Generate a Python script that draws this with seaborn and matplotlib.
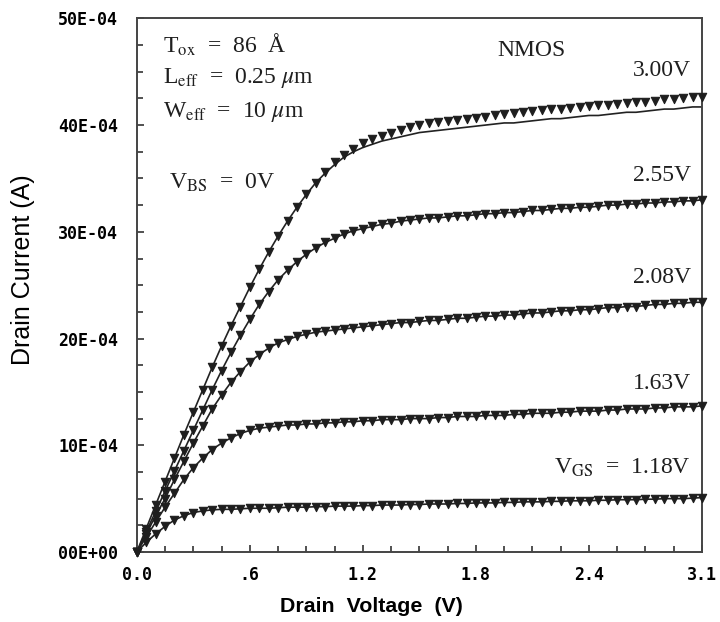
import numpy as np
import pandas as pd
import matplotlib
matplotlib.use('Agg')
import matplotlib.pyplot as plt
from matplotlib.ticker import MultipleLocator, FixedLocator
import seaborn as sns

# drain voltage sweep (V)
vds = [0.00, 0.05, 0.10, 0.15, 0.20, 0.25, 0.30, 0.35, 0.40, 0.45,
       0.50, 0.55, 0.60, 0.65, 0.70, 0.75, 0.80, 0.85, 0.90, 0.95,
       1.00, 1.05, 1.10, 1.15, 1.20, 1.25, 1.30, 1.35, 1.40, 1.45,
       1.50, 1.55, 1.60, 1.65, 1.70, 1.75, 1.80, 1.85, 1.90, 1.95,
       2.00, 2.05, 2.10, 2.15, 2.20, 2.25, 2.30, 2.35, 2.40, 2.45,
       2.50, 2.55, 2.60, 2.65, 2.70, 2.75, 2.80, 2.85, 2.90, 2.95, 3.00]

# measured drain current, units of 1E-04 A
id_118 = [0.0, 0.9, 1.7, 2.4, 3.0, 3.4, 3.7, 3.85, 3.95, 4.0,
          4.0, 4.05, 4.1, 4.1, 4.1, 4.15, 4.2, 4.2, 4.2, 4.25,
          4.25, 4.3, 4.3, 4.3, 4.35, 4.35, 4.4, 4.4, 4.4, 4.45,
          4.45, 4.5, 4.5, 4.5, 4.55, 4.55, 4.6, 4.6, 4.6, 4.65,
          4.65, 4.7, 4.7, 4.7, 4.75, 4.75, 4.8, 4.8, 4.8, 4.85,
          4.85, 4.9, 4.9, 4.9, 4.95, 4.95, 5.0, 5.0, 5.0, 5.05, 5.1]
id_163 = [0.0, 1.4, 2.8, 4.2, 5.5, 6.8, 7.9, 8.8, 9.6, 10.2,
          10.7, 11.1, 11.4, 11.6, 11.7, 11.8, 11.9, 11.9, 12.0, 12.0,
          12.1, 12.1, 12.2, 12.2, 12.3, 12.3, 12.4, 12.4, 12.4, 12.5,
          12.5, 12.5, 12.6, 12.6, 12.7, 12.7, 12.7, 12.8, 12.8, 12.8,
          12.9, 12.9, 13.0, 13.0, 13.0, 13.1, 13.1, 13.2, 13.2, 13.2,
          13.3, 13.3, 13.4, 13.4, 13.4, 13.5, 13.5, 13.6, 13.6, 13.6, 13.7]
id_208 = [0.0, 1.7, 3.4, 5.0, 6.8, 8.5, 10.2, 11.8, 13.4, 14.7,
          15.9, 16.9, 17.8, 18.5, 19.1, 19.6, 19.9, 20.2, 20.4, 20.6,
          20.7, 20.8, 20.9, 21.0, 21.1, 21.2, 21.3, 21.4, 21.5, 21.5,
          21.6, 21.7, 21.7, 21.8, 21.9, 21.9, 22.0, 22.1, 22.1, 22.2,
          22.2, 22.3, 22.4, 22.4, 22.5, 22.6, 22.6, 22.7, 22.7, 22.8,
          22.9, 22.9, 23.0, 23.0, 23.1, 23.2, 23.2, 23.3, 23.3, 23.4, 23.4]
id_255 = [0.0, 1.9, 3.8, 5.7, 7.6, 9.5, 11.4, 13.3, 15.2, 17.0,
          18.7, 20.3, 21.8, 23.2, 24.4, 25.5, 26.4, 27.2, 27.9, 28.5,
          29.0, 29.4, 29.8, 30.1, 30.3, 30.5, 30.7, 30.8, 31.0, 31.1,
          31.2, 31.3, 31.3, 31.4, 31.5, 31.5, 31.6, 31.7, 31.7, 31.8,
          31.8, 31.9, 32.0, 32.0, 32.1, 32.2, 32.2, 32.3, 32.3, 32.4,
          32.5, 32.5, 32.6, 32.6, 32.7, 32.7, 32.8, 32.8, 32.9, 32.9, 33.0]
id_300 = [0.0, 2.2, 4.4, 6.6, 8.8, 11.0, 13.1, 15.2, 17.3, 19.3,
          21.2, 23.0, 24.8, 26.5, 28.1, 29.6, 31.0, 32.3, 33.5, 34.6,
          35.6, 36.5, 37.2, 37.8, 38.3, 38.7, 39.0, 39.3, 39.5, 39.8,
          40.0, 40.2, 40.3, 40.4, 40.5, 40.6, 40.7, 40.8, 40.9, 41.0,
          41.1, 41.2, 41.3, 41.4, 41.5, 41.5, 41.6, 41.7, 41.8, 41.9,
          41.9, 42.0, 42.1, 42.2, 42.2, 42.3, 42.4, 42.4, 42.5, 42.6, 42.6]

# simulated curve for 3.00V (differs from measurement in saturation)
sim_300 = [0.0, 2.2, 4.4, 6.6, 8.8, 11.0, 13.1, 15.2, 17.3, 19.3,
           21.2, 23.0, 24.8, 26.5, 28.1, 29.6, 31.0, 32.3, 33.5, 34.6,
           35.5, 36.3, 37.0, 37.5, 37.9, 38.2, 38.5, 38.7, 38.9, 39.1,
           39.3, 39.4, 39.5, 39.6, 39.7, 39.8, 39.9, 40.0, 40.1, 40.2,
           40.2, 40.3, 40.4, 40.5, 40.6, 40.6, 40.7, 40.8, 40.9, 40.9,
           41.0, 41.1, 41.2, 41.2, 41.3, 41.4, 41.5, 41.5, 41.6, 41.7, 41.7]

vgs_labels = ['1.18', '1.63', '2.08', '2.55', '3.00']
meas_series = [id_118, id_163, id_208, id_255, id_300]
sim_series = [id_118, id_163, id_208, id_255, sim_300]

x_ticks = [0.0, 0.6, 1.2, 1.8, 2.4, 3.0]
x_ticklabels = ['0.0', '.6', '1.2', '1.8', '2.4', '3.1']
y_ticks = [0, 10, 20, 30, 40, 50]
y_ticklabels = ['00E+00', '10E-04', '20E-04', '30E-04', '40E-04', '50E-04']

meas = pd.DataFrame([(v, i, g) for g, s in zip(vgs_labels, meas_series) for v, i in zip(vds, s)],
                    columns=['Vds', 'Id', 'Vgs'])
sim = pd.DataFrame([(v, i, g) for g, s in zip(vgs_labels, sim_series) for v, i in zip(vds, s)],
                   columns=['Vds', 'Id', 'Vgs'])

sns.set_theme(style='ticks')
plt.rcParams['mathtext.fontset'] = 'stix'

fig = plt.figure(figsize=(7.2, 6.22), dpi=100)
ax = fig.add_axes([0.190, 0.1125, 0.785, 0.858])

sns.lineplot(data=sim, x='Vds', y='Id', units='Vgs', estimator=None, color='#222222',
             linewidth=1.2, ax=ax, sort=False)
sns.scatterplot(data=meas, x='Vds', y='Id', marker='v', color='#1e1e1e', s=36,
                linewidth=0.8, edgecolor='#1e1e1e', ax=ax, zorder=3, clip_on=False)

ax.set_xlim(0, 3.0)
ax.set_ylim(0, 50)
ax.xaxis.set_major_locator(FixedLocator(x_ticks))
ax.set_xticklabels(x_ticklabels)
ax.xaxis.set_minor_locator(MultipleLocator(0.15))
ax.yaxis.set_major_locator(FixedLocator(y_ticks))
ax.set_yticklabels(y_ticklabels)
ax.yaxis.set_minor_locator(MultipleLocator(2.5))

ax.tick_params(which='both', direction='in', color='#333333', width=1.2)
ax.tick_params(which='major', length=5)
ax.tick_params(which='minor', length=4)
ax.tick_params(axis='x', which='major', pad=10)
ax.tick_params(axis='y', which='major', pad=13.5)
for lab in ax.get_xticklabels() + ax.get_yticklabels():
    lab.set_fontfamily('DejaVu Sans Mono')
    lab.set_fontweight('bold')
    lab.set_fontsize(12)
    lab.set_color('black')

for sp in ax.spines.values():
    sp.set_visible(True)
    sp.set_color('#444444')
    sp.set_linewidth(1.4)

ax.set_xlabel('Drain  Voltage  (V)', fontfamily='Liberation Sans', fontweight='bold',
              fontsize=15.4, color='black')
ax.set_ylabel('Drain Current (A)', fontfamily='Liberation Sans', fontsize=18, color='black')
ax.xaxis.set_label_coords(0.416, -0.084)
ax.yaxis.set_label_coords(-0.180, 0.529)

tc = '#1f1f1f'
tk = dict(fontfamily='Liberation Serif', fontsize=17, color=tc, va='center')
ax.text(0.138, 47.5, r'T$_{\rm ox}$  =  86  Å', ha='left', **tk)
ax.text(0.138, 44.4, r'L$_{\rm eff}$  =  0.25 $\mu$m', ha='left', **tk)
ax.text(0.138, 41.2, r'W$_{\rm eff}$  =  10 $\mu$m', ha='left', **tk)
ax.text(0.17, 34.6, r'V$_{\rm BS}$  =  0V', ha='left', **tk)
ax.text(2.096, 47.0, 'NMOS', ha='center', **tk)

label_pos = [7.9, 15.8, 25.7, 35.3, 45.1]
for g, yp in zip(vgs_labels, label_pos):
    txt = g + 'V' if g != '1.18' else r'V$_{\rm GS}$  =  ' + g + 'V'
    ax.text(2.94, yp, txt, ha='right', **tk)

fig.savefig('out.png', dpi=100, facecolor='white')
